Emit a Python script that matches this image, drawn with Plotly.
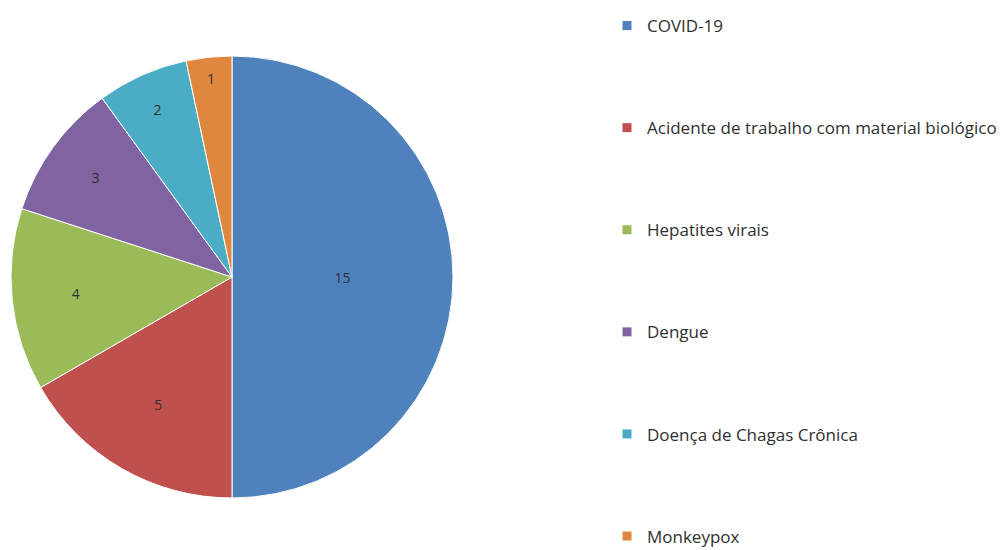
import plotly.graph_objects as go

# data
labels = ["COVID-19", "Acidente de trabalho com material biológico", "Hepatites virais",
          "Dengue", "Doença de Chagas Crônica", "Monkeypox"]
values = [15, 5, 4, 3, 2, 1]
colors = ["#4F81BD", "#C0504D", "#9BBB59", "#8064A2", "#4BACC6", "#E0873F"]

W, H = 1007, 550
font_family = "Open Sans"
# the page body adds an 8px offset, so the domain is shifted to compensate
OFF = 8

fig = go.Figure()

fig.add_trace(go.Pie(
    labels=labels,
    values=values,
    sort=False,
    direction="clockwise",
    rotation=0,
    marker=dict(colors=colors, line=dict(color="white", width=1)),
    textinfo="value",
    textposition="inside",
    insidetextorientation="horizontal",
    textfont=dict(family=font_family, size=14, color="#303030"),
    showlegend=False,
    domain=dict(x=[(11 - OFF) / W, (453 - OFF) / W],
                y=[(52 + OFF) / H, (494 + OFF) / H]),
    hoverinfo="label+value+percent",
))

# legend entries with wide spacing
for i, (lab, col) in enumerate(zip(labels, colors)):
    fig.add_trace(go.Scatter(
        x=[None], y=[None],
        mode="markers",
        name=lab,
        legendgroup=f"g{i}",
        marker=dict(symbol="square", size=9, color=col),
        showlegend=True,
        hoverinfo="skip",
    ))

fig.update_layout(
    width=W, height=H,
    margin=dict(l=0, r=0, t=0, b=0),
    paper_bgcolor="white",
    plot_bgcolor="white",
    xaxis=dict(visible=False),
    yaxis=dict(visible=False),
    legend=dict(
        x=599 / W, y=1,
        xanchor="left", yanchor="top",
        tracegroupgap=77,
        itemwidth=30,
        font=dict(family=font_family, size=17, color="#303030"),
        bgcolor="rgba(0,0,0,0)",
    ),
)

fig.write_html("out.html")
